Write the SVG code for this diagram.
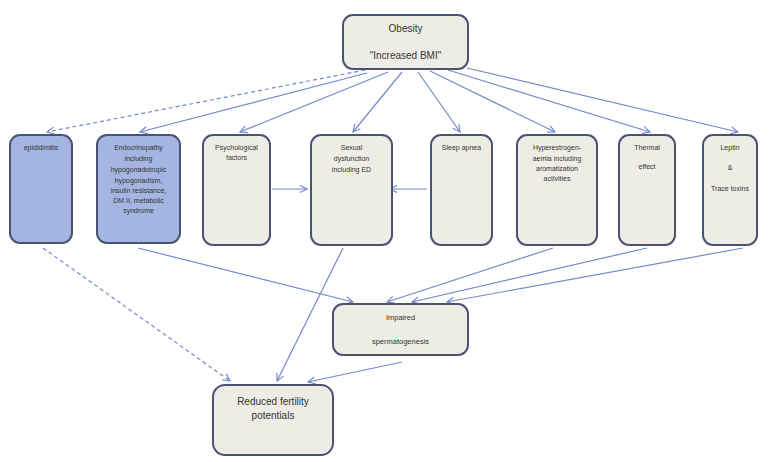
<svg xmlns="http://www.w3.org/2000/svg" width="774" height="462" viewBox="0 0 774 462">
<defs>
<marker id="arr" viewBox="0 0 10 10" refX="9" refY="5" markerWidth="9" markerHeight="9" markerUnits="userSpaceOnUse" orient="auto">
<path d="M1,1 L9,5 L1,9" fill="none" stroke="#7489c9" stroke-width="1.3"/>
</marker>
</defs>
<style>
.box{fill:#eeede5;stroke:#4b5272;stroke-width:2}
.blue{fill:#a4b5e1;stroke:#4b5272;stroke-width:2}
.c{fill:none;stroke:#7489c9;stroke-width:1.2;marker-end:url(#arr)}
.d{stroke-dasharray:4,3}
text{font-family:"Liberation Sans",Arial,sans-serif;fill:#333;text-anchor:middle}
.s{font-size:7px}
.m{font-size:7.5px}
.l{font-size:10px}
</style>
<rect width="774" height="462" fill="#ffffff"/>
<g id="connectors">
<line class="c d" x1="365" y1="70" x2="47" y2="132"/>
<line class="c" x1="367" y1="73" x2="140" y2="132"/>
<line class="c" x1="388" y1="72" x2="240" y2="132"/>
<line class="c" x1="402" y1="72" x2="353" y2="132"/>
<line class="c" x1="418" y1="72" x2="460" y2="132"/>
<line class="c" x1="430" y1="71" x2="555" y2="132"/>
<line class="c" x1="448" y1="70" x2="650" y2="132"/>
<line class="c" x1="467" y1="68" x2="738" y2="132"/>
<line class="c" x1="272" y1="189" x2="307" y2="189"/>
<line class="c" x1="427" y1="189" x2="390" y2="189"/>
<line class="c d" x1="43" y1="248" x2="230" y2="381"/>
<line class="c" x1="138" y1="248" x2="353" y2="302"/>
<line class="c" x1="343" y1="248" x2="277" y2="381"/>
<line class="c" x1="553" y1="248" x2="387" y2="302"/>
<line class="c" x1="647" y1="248" x2="412" y2="302"/>
<line class="c" x1="743" y1="248" x2="447" y2="302"/>
<line class="c" x1="402" y1="362" x2="308" y2="382"/>
</g>
<g id="obesity">
<rect class="box" x="343" y="15" width="125" height="54" rx="10"/>
<text class="l" x="405.5" y="32">Obesity</text>
<text class="l" x="405.5" y="59">"Increased BMI"</text>
</g>
<g id="epididimitis">
<rect class="blue" x="10" y="135" width="62" height="108" rx="10"/>
<text class="s" x="41" y="150">epididimitis</text>
</g>
<g id="endocrinopathy">
<rect class="blue" x="97" y="135" width="83" height="108" rx="10"/>
<text class="s" x="138.5" y="150">Endocrinopathy</text>
<text class="s" x="138.5" y="161">including</text>
<text class="s" x="138.5" y="172">hypogonadotropic</text>
<text class="s" x="138.5" y="183">hypogonadism,</text>
<text class="s" x="138.5" y="193">insulin resistance,</text>
<text class="s" x="138.5" y="203">DM II, metabolic</text>
<text class="s" x="138.5" y="213">syndrome</text>
</g>
<g id="psychological">
<rect class="box" x="203" y="135" width="67" height="110" rx="10"/>
<text class="s" x="236.5" y="150">Psychological</text>
<text class="s" x="236.5" y="160">factors</text>
</g>
<g id="sexual">
<rect class="box" x="311" y="135" width="81" height="110" rx="10"/>
<text class="s" x="351.5" y="150">Sexual</text>
<text class="s" x="351.5" y="161">dysfunction</text>
<text class="s" x="351.5" y="172">including ED</text>
</g>
<g id="sleep">
<rect class="box" x="431" y="135" width="61" height="110" rx="10"/>
<text class="s" x="461.5" y="150">Sleep apnea</text>
</g>
<g id="hyperestrogen">
<rect class="box" x="517" y="135" width="80" height="110" rx="10"/>
<text class="s" x="557" y="150">Hyperestrogen-</text>
<text class="s" x="557" y="161">aemia including</text>
<text class="s" x="557" y="171">aromatization</text>
<text class="s" x="557" y="181">activities</text>
</g>
<g id="thermal">
<rect class="box" x="619" y="135" width="56" height="110" rx="10"/>
<text class="s" x="647" y="150">Thermal</text>
<text class="s" x="647" y="169">effect</text>
</g>
<g id="leptin">
<rect class="box" x="703" y="135" width="54" height="110" rx="10"/>
<text class="s" x="730" y="150">Leptin</text>
<text class="s" x="730" y="170">&amp;</text>
<text class="s" x="730" y="191">Trace toxins</text>
</g>
<g id="impaired">
<rect class="box" x="333" y="304" width="135" height="51" rx="10"/>
<text class="m" x="400.5" y="320">Impaired</text>
<text class="m" x="400.5" y="344">spermatogenesis</text>
</g>
<g id="reduced">
<rect class="box" x="213" y="385" width="120" height="70" rx="12"/>
<text class="l" x="273" y="405">Reduced fertility</text>
<text class="l" x="273" y="419">potentials</text>
</g>
</svg>
